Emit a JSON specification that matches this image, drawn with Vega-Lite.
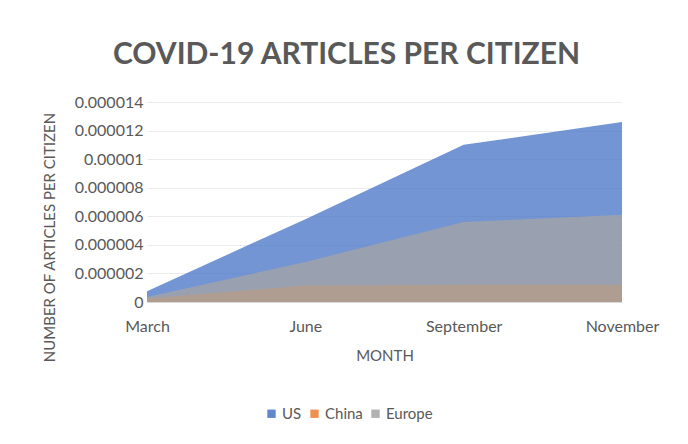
{
  "$schema": "https://vega.github.io/schema/vega-lite/v6.json",
  "autosize": {"type": "none"},
  "width": 475,
  "height": 200,
  "padding": {"left": 147, "top": 102, "right": 66, "bottom": 142},
  "background": "white",
  "title": {
    "text": "COVID-19 ARTICLES PER CITIZEN",
    "font": "Lato",
    "fontSize": 30,
    "fontWeight": "bold",
    "color": "#595959",
    "anchor": "middle",
    "dx": -38,
    "offset": 24
  },
  "data": {
    "values": [
      {"month": "March", "region": "US", "value": 0.00000075},
      {"month": "June", "region": "US", "value": 0.0000058},
      {"month": "September", "region": "US", "value": 0.000011},
      {"month": "November", "region": "US", "value": 0.0000126},
      {"month": "March", "region": "China", "value": 0.00000025},
      {"month": "June", "region": "China", "value": 0.00000115},
      {"month": "September", "region": "China", "value": 0.0000012},
      {"month": "November", "region": "China", "value": 0.0000012},
      {"month": "March", "region": "Europe", "value": 0.00000035},
      {"month": "June", "region": "Europe", "value": 0.0000028},
      {"month": "September", "region": "Europe", "value": 0.0000056},
      {"month": "November", "region": "Europe", "value": 0.0000061}
    ]
  },
  "mark": {"type": "area", "fillOpacity": 0.75, "line": false},
  "encoding": {
    "x": {
      "field": "month",
      "type": "ordinal",
      "sort": ["March", "June", "September", "November"],
      "scale": {"type": "point", "padding": 0},
      "axis": {
        "title": "MONTH",
        "labelAngle": 0,
        "labelFont": "Lato",
        "labelFontSize": 16,
        "labelColor": "#595959",
        "labelPadding": 16,
        "ticks": false,
        "domainColor": "#d9d9d9",
        "titleFont": "Lato",
        "titleFontSize": 15,
        "titleFontWeight": "normal",
        "titleColor": "#595959",
        "titlePadding": 14,
        "grid": false
      }
    },
    "y": {
      "field": "value",
      "type": "quantitative",
      "stack": null,
      "scale": {"domain": [0, 0.000014]},
      "axis": {
        "title": "NUMBER OF ARTICLES PER CITIZEN",
        "values": [0, 0.000002, 0.000004, 0.000006, 0.000008, 0.00001, 0.000012, 0.000014],
        "format": ".6~f",
        "labelFont": "Lato",
        "labelFontSize": 16,
        "labelColor": "#595959",
        "labelPadding": 4,
        "ticks": false,
        "domain": false,
        "gridColor": "#ececec",
        "titleFont": "Lato",
        "titleFontSize": 15,
        "titleFontWeight": "normal",
        "titleColor": "#595959",
        "titleX": -90,
        "titleY": 135
      }
    },
    "color": {
      "field": "region",
      "type": "nominal",
      "sort": ["US", "China", "Europe"],
      "scale": {"domain": ["US", "China", "Europe"], "range": ["#4472C4", "#ED7D31", "#A5A5A5"]},
      "legend": {
        "title": null,
        "orient": "none",
        "direction": "horizontal",
        "legendX": 117,
        "legendY": 304,
        "symbolType": "square",
        "symbolSize": 70,
        "symbolOpacity": 0.85,
        "labelFont": "Lato",
        "labelFontSize": 15,
        "labelColor": "#595959",
        "labelOffset": 3,
        "columnPadding": 5
      }
    }
  },
  "config": {"view": {"stroke": null}}
}
